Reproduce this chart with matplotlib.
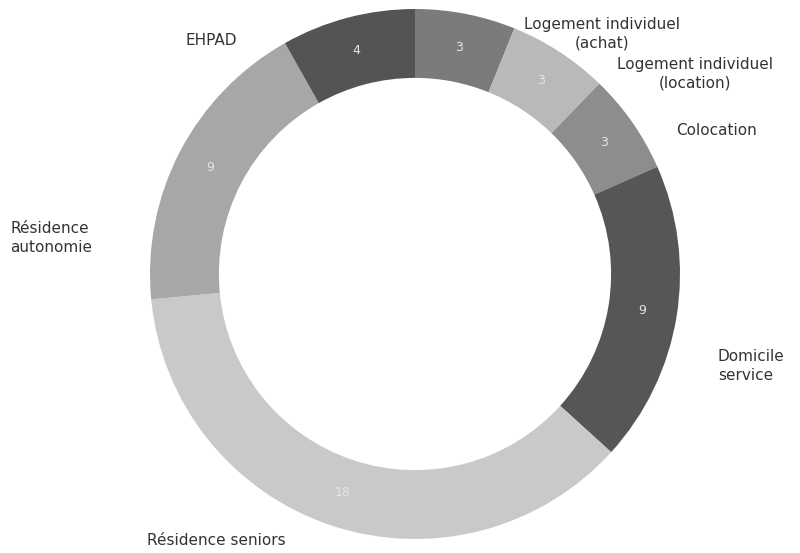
import matplotlib
matplotlib.use('Agg')
import matplotlib.pyplot as plt

plt.rcParams['font.family'] = ['DejaVu Sans']

# données (sens horaire à partir du haut)
categories = ['Logement individuel\n(achat)', 'Logement individuel\n(location)',
              'Colocation', 'Domicile\nservice', 'Résidence seniors',
              'Résidence\nautonomie', 'EHPAD']
values = [3, 3, 3, 9, 18, 9, 4]
colors = ['#7b7b7b', '#b9b9b9', '#8d8d8d', '#565656', '#c9c9c9', '#a7a7a7', '#545454']

# emplacement des étiquettes (coordonnées données, rayon = 1)
label_pos = [(0.706, 0.906, 'center'), (1.057, 0.755, 'center'),
             (1.136, 0.543, 'center'), (1.143, -0.347, 'left'),
             (-1.011, -1.004, 'left'), (-1.528, 0.136, 'left'),
             (-0.770, 0.883, 'center')]

W, H, DPI = 800, 553, 100
cx, cy, R = 415, 274, 265  # centre et rayon en pixels

fig = plt.figure(figsize=(W / DPI, H / DPI), dpi=DPI)
ax = fig.add_axes([0, 0, 1, 1])

wedges, _, autotexts = ax.pie(
    values, colors=colors, startangle=90, counterclock=False,
    radius=1, autopct=lambda p: f'{p * sum(values) / 100:.0f}',
    pctdistance=0.87, wedgeprops=dict(width=0.26, linewidth=0),
    textprops=dict(color='#e6e6e6', fontsize=9))

for (x, y, ha), lab in zip(label_pos, categories):
    ax.text(x, y, lab, ha=ha, va='center', fontsize=11, color='#333333',
            multialignment=ha, linespacing=1.3)

ax.set_xlim(-cx / R, (W - cx) / R)
ax.set_ylim(-(H - cy) / R, cy / R)
ax.set_aspect('auto')
ax.axis('off')

fig.savefig('out.png', dpi=DPI, facecolor='white')
